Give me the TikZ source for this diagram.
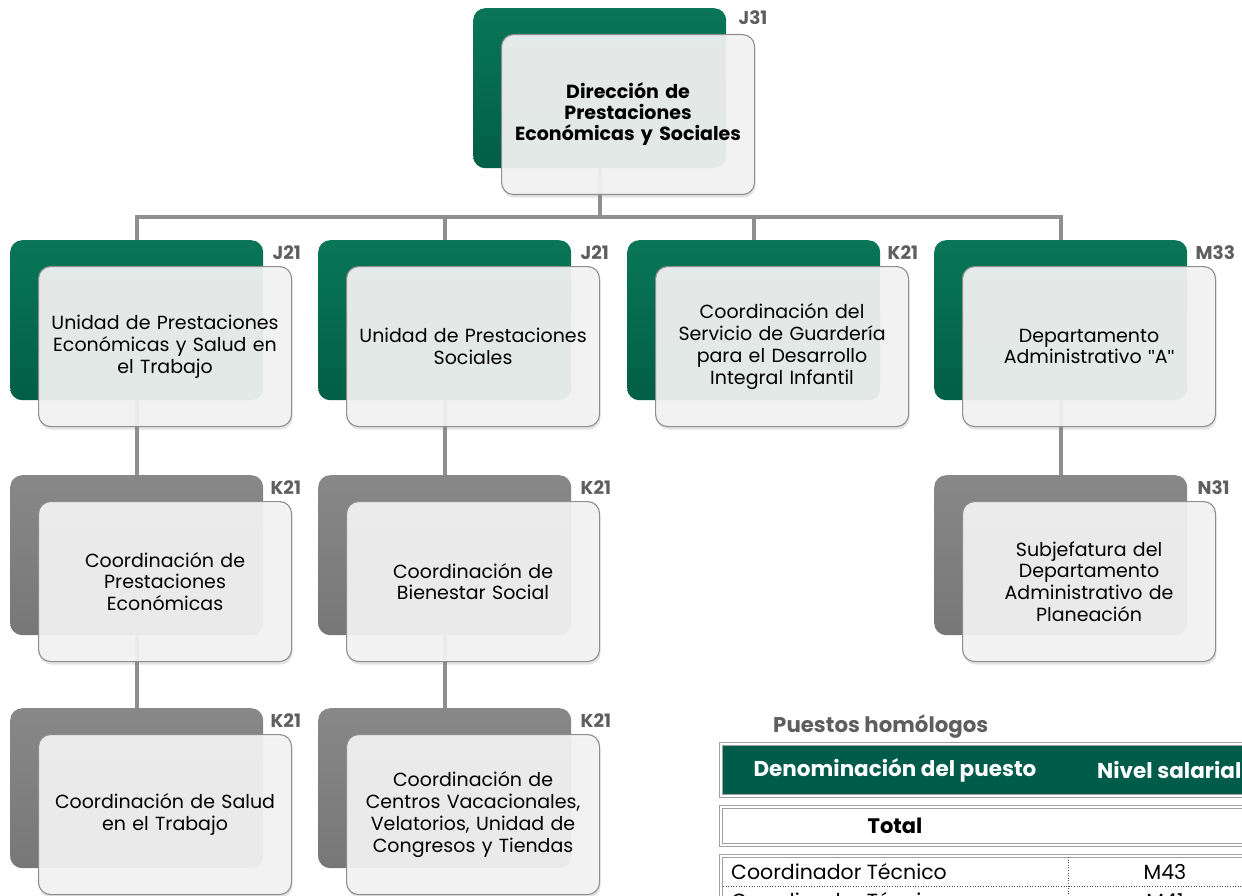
\documentclass[tikz,border=0pt]{standalone}
\usepackage{fontspec}
\setmainfont{Poppins}
\newfontfamily\quotefont{Liberation Sans}
\usetikzlibrary{shadows}
\definecolor{gtop}{HTML}{0A7657}
\definecolor{gbot}{HTML}{005F45}
\definecolor{ytop}{HTML}{888888}
\definecolor{ybot}{HTML}{777777}
\definecolor{frontfill}{HTML}{F3F3F3}
\definecolor{frontedge}{HTML}{8E8E8E}
\definecolor{connc}{HTML}{8F8F8F}
\definecolor{lvlc}{HTML}{5E5E5E}
\definecolor{thead}{HTML}{005C4A}
\definecolor{tline}{HTML}{A0A0A0}
\pgfdeclarelayer{bg}
\pgfsetlayers{bg,main}
\tikzset{
  backg/.style={anchor=north west, minimum width=253pt, minimum height=160pt, rounded corners=12pt, top color=gtop, bottom color=gbot, draw=none, inner sep=0pt},
  backy/.style={backg, top color=ytop, bottom color=ybot},
  frontbox/.style={anchor=north west, minimum width=253pt, minimum height=160pt, rounded corners=12pt, fill=frontfill, fill opacity=0.93, text opacity=1, draw=frontedge, line width=1.1pt, draw opacity=1, inner sep=0pt,
    drop shadow={opacity=0.22, shadow xshift=1pt, shadow yshift=-3pt},
    text width=249pt, align=center, font=\fontsize{19}{21.7}\selectfont},
  lvl/.style={anchor=west, text=lvlc, font=\fontsize{18.5}{20}\selectfont\bfseries, inner sep=0pt},
  conn/.style={draw=connc, line width=4pt},
  dbl/.style={draw=tline, line width=1.2pt, double=white, double distance=1.3pt},
  ttext/.style={inner sep=0pt, font=\fontsize{20.5}{22}\selectfont},
}
\begin{document}
\begin{tikzpicture}[x=1pt,y=-1pt]
\useasboundingbox (0,0) rectangle (1242,896);
% back boxes
\node[backg] (b0) at (473,8) {};
\node[backg] (b1) at (10,240) {};
\node[backg] (b2) at (318,240) {};
\node[backg] (b3) at (627,240) {};
\node[backg] (b4) at (934,240) {};
\node[backy] (b5) at (10,475) {};
\node[backy] (b6) at (318,475) {};
\node[backy] (b7) at (934,475) {};
\node[backy] (b8) at (10,708) {};
\node[backy] (b9) at (318,708) {};
% levels
\node[lvl] (l0) at ([xshift=12pt,yshift=-10pt]b0.north east) {J31};
\node[lvl] (l1) at ([xshift=9pt,yshift=-13pt]b1.north east) {J21};
\node[lvl] (l2) at ([xshift=9pt,yshift=-13pt]b2.north east) {J21};
\node[lvl] (l3) at ([xshift=7pt,yshift=-13pt]b3.north east) {K21};
\node[lvl] (l4) at ([xshift=8pt,yshift=-13pt]b4.north east) {M33};
\node[lvl] (l5) at ([xshift=7pt,yshift=-13pt]b5.north east) {K21};
\node[lvl] (l6) at ([xshift=9pt,yshift=-13pt]b6.north east) {K21};
\node[lvl] (l7) at ([xshift=10pt,yshift=-13pt]b7.north east) {N31};
\node[lvl] (l8) at ([xshift=7pt,yshift=-13pt]b8.north east) {K21};
\node[lvl] (l9) at ([xshift=9pt,yshift=-13pt]b9.north east) {K21};
% front boxes
\node[frontbox, font=\fontsize{19}{21}\selectfont\bfseries] (f0) at (501,34) {Dirección de\\Prestaciones\\Económicas y Sociales};
\node[frontbox] (f1) at (38,266) {Unidad de Prestaciones\\Económicas y Salud en\\el Trabajo};
\node[frontbox] (f2) at (346,266) {Unidad de Prestaciones\\Sociales};
\node[frontbox] (f3) at (655,266) {Coordinación del\\Servicio de Guardería\\para el Desarrollo\\Integral Infantil};
\node[frontbox] (f4) at (962,266) {Departamento\\Administrativo {\quotefont"}A{\quotefont"}};
\node[frontbox] (f5) at (38,501) {Coordinación de\\Prestaciones\\Económicas};
\node[frontbox] (f6) at (346,501) {Coordinación de\\Bienestar Social};
\node[frontbox] (f7) at (962,501) {Subjefatura del\\Departamento\\Administrativo de\\Planeación};
\node[frontbox] (f8) at (38,734) {Coordinación de Salud\\en el Trabajo};
\node[frontbox] (f9) at (346,734) {Coordinación de\\Centros Vacacionales,\\Velatorios, Unidad de\\Congresos y Tiendas};
% connectors
\begin{pgfonlayer}{bg}
\coordinate (bar) at (0,217);
\draw[conn] (b0.center) -- (b0.center |- bar);
\draw[conn, line cap=rect] (b1.center |- bar) -- (b4.center |- bar);
\draw[conn] (b1.center |- bar) -- (b1.center);
\draw[conn] (b2.center |- bar) -- (b2.center);
\draw[conn] (b3.center |- bar) -- (b3.center);
\draw[conn] (b4.center |- bar) -- (b4.center);
\draw[conn] (b1.center) -- (b5.center);
\draw[conn] (b5.center) -- (b8.center);
\draw[conn] (b2.center) -- (b6.center);
\draw[conn] (b6.center) -- (b9.center);
\draw[conn] (b4.center) -- (b7.center);
\end{pgfonlayer}
% table
\begin{scope}
\clip (0,0) rectangle (1242,896);
\node[anchor=west, text=lvlc, font=\fontsize{21.3}{23}\selectfont\bfseries, inner sep=0pt] (ph) at (773,727) {Puestos homólogos};
\path[dbl, fill=thead] (721,744) rectangle (1300,796);
\node[text=white, font=\fontsize{21.5}{23}\selectfont\bfseries, inner sep=0pt] (th1) at (895,770) {Denominación del puesto};
\node[anchor=west, text=white, font=\fontsize{21.5}{23}\selectfont\bfseries, inner sep=0pt] (th2) at (1097,770) {Nivel salarial};
\path[dbl] (721,807) rectangle (1300,845);
\node[font=\fontsize{21}{23}\selectfont\bfseries, inner sep=0pt] (tt) at (895,826) {Total};
\path[dbl] (721,856) rectangle (1300,940);
\draw[black!70, line width=0.6pt, dotted] (723,886) -- (1300,886);
\draw[black!70, line width=0.6pt, dotted] (1068,857) -- (1068,940);
\node[ttext, anchor=west] (r1a) at (731,872) {Coordinador Técnico};
\node[ttext] (r1b) at (1165,872) {M43};
\node[ttext, anchor=west] (r2a) at (731,901) {Coordinador Técnico};
\node[ttext] (r2b) at (1165,901) {M41};
\end{scope}
\end{tikzpicture}
\end{document}
